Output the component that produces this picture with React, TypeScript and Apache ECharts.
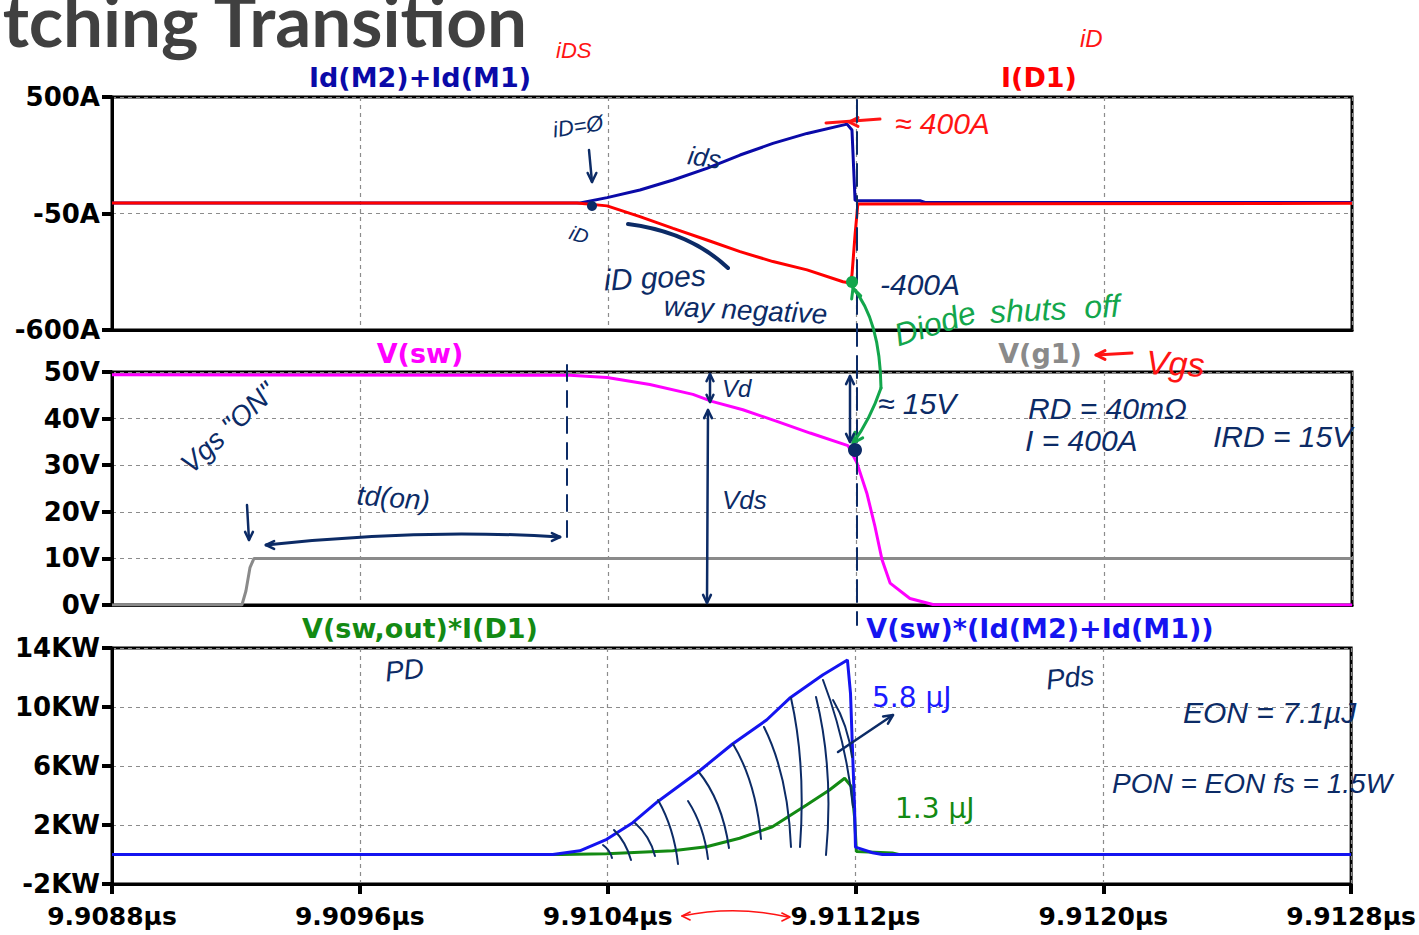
import React, { useEffect, useRef } from "react";
import * as echarts from "echarts";

// ---- time base (picoseconds) ----
const T_MIN = 9908800;
const T_MAX = 9912800;
const T_STEP = 800;

// ---- panel 1: currents (A) ----
const idTime = [9908800, 9910310, 9910397, 9910503, 9910610, 9910719, 9910826, 9910932, 9911042, 9911171, 9911187, 9911197, 9911206, 9911406, 9911423, 9912800];
const idAmps = [0, 0, 25, 61, 108, 163, 226, 281, 328, 372, 344, 12, 10, 10, 2, 2];

const idiodeTime = [9908800, 9910300, 9910397, 9910503, 9910610, 9910719, 9910826, 9910932, 9911042, 9911158, 9911181, 9911187, 9911197, 9911206, 9912800];
const idiodeAmps = [0, 0, -14, -65, -120, -175, -230, -277, -316, -372, -378, -340, -150, -5, -2];

// ---- panel 2: voltages (V) ----
const vswTime = [9908800, 9910277, 9910397, 9910535, 9910674, 9910735, 9910835, 9910945, 9911052, 9911174, 9911203, 9911235, 9911261, 9911284, 9911310, 9911374, 9911448, 9912800];
const vswVolts = [49.4, 49.3, 48.8, 47.3, 45.2, 43.7, 41.9, 39.4, 36.9, 34.2, 30.5, 24.0, 16.9, 9.7, 4.7, 1.4, 0.1, 0];

const vgTime = [9908800, 9909219, 9909232, 9909245, 9909258, 9912800];
const vgVolts = [0, 0, 3, 8, 10, 10];

// ---- panel 3: power (kW) ----
const pdTime = [9908800, 9910250, 9910397, 9910610, 9910719, 9910826, 9910932, 9911042, 9911116, 9911165, 9911187, 9911197, 9911203, 9911319, 9911340, 9912800];
const pdKW = [0, 0, 0.05, 0.26, 0.53, 1.1, 1.88, 3.36, 4.37, 5.17, 4.6, 2.56, 0.2, 0.1, 0, 0];

const pdsTime = [9908800, 9910223, 9910310, 9910397, 9910481, 9910561, 9910697, 9910803, 9910913, 9910987, 9911094, 9911174, 9911184, 9911197, 9911200, 9911255, 9911287, 9912800];
const pdsKW = [0, 0, 0.25, 1.03, 2.16, 3.58, 5.68, 7.49, 9.12, 10.59, 12.17, 13.19, 10.9, 3.2, 0.5, 0.12, 0, 0];

// ---- tick labels ----
const ampTicks = [-600, -50, 500];
const voltTicks = [0, 10, 20, 30, 40, 50];
const kwTicks = [-2, 2, 6, 10, 14];

const NAVY = "#0c2b66";
const INK_RED = "#ff1414";
const INK_GREEN = "#13a64c";
const HAND = "Liberation Sans";
const AXIS_FONT = "DejaVu Sans";

const pairs = (t: number[], v: number[]) => t.map((x, i) => [x, v[i]]);

const note = (x: number, y: number, text: string, color: string, size: number, rot = 0, extra: any = {}) => ({
  type: "text",
  x,
  y,
  rotation: rot,
  z: 100,
  style: {
    text,
    fill: color,
    fontSize: size,
    fontFamily: extra.family || HAND,
    fontStyle: extra.style || "italic",
    fontWeight: extra.weight || "normal",
    align: extra.align || "left",
    textAlign: extra.align || "left",
    verticalAlign: "middle",
    textVerticalAlign: "middle",
  },
});

const stroke = (x1: number, y1: number, x2: number, y2: number, color: string, w = 2.5, dash?: number[]) => ({
  type: "line",
  z: 100,
  shape: { x1, y1, x2, y2 },
  style: { stroke: color, lineWidth: w, lineDash: dash, lineCap: "round" },
});

const curve = (x1: number, y1: number, cx: number, cy: number, x2: number, y2: number, color: string, w = 2.5) => ({
  type: "bezierCurve",
  z: 100,
  shape: { x1, y1, cpx1: cx, cpy1: cy, x2, y2 },
  style: { stroke: color, lineWidth: w, fill: null, lineCap: "round" },
});

const head = (x: number, y: number, ang: number, color: string, size = 11, w = 2.5) => ({
  type: "polyline",
  z: 100,
  shape: {
    points: [
      [x - size * Math.cos(ang - 0.45), y - size * Math.sin(ang - 0.45)],
      [x, y],
      [x - size * Math.cos(ang + 0.45), y - size * Math.sin(ang + 0.45)],
    ],
  },
  style: { stroke: color, lineWidth: w, fill: null, lineCap: "round", lineJoin: "round" },
});

const dot = (x: number, y: number, r: number, color: string) => ({
  type: "circle",
  z: 100,
  shape: { cx: x, cy: y, r },
  style: { fill: color },
});

const traceTitle = (x: number, y: number, text: string, color: string) => ({
  type: "text",
  x,
  y,
  z: 90,
  style: {
    text,
    fill: color,
    fontSize: 27,
    fontFamily: AXIS_FONT,
    fontWeight: "bold",
    align: "center",
    textAlign: "center",
    verticalAlign: "middle",
    textVerticalAlign: "middle",
  },
});

// hatching strokes over the switching-loss area
const hatch: number[][] = [
  [603, 845, 610, 850, 612, 858],
  [614, 830, 626, 842, 631, 860],
  [635, 823, 650, 836, 655, 856],
  [658, 800, 674, 828, 678, 864],
  [688, 801, 704, 826, 708, 859],
  [698, 771, 722, 800, 729, 848],
  [733, 744, 756, 782, 761, 839],
  [764, 727, 788, 775, 791, 847],
  [791, 698, 806, 765, 800, 847],
  [816, 697, 834, 770, 826, 855],
  [823, 680, 846, 740, 853, 807],
  [833, 700, 848, 725, 852, 757],
];

function buildGraphics() {
  const g: any[] = [];
  // slide title, running off the top-left corner
  g.push({
    type: "text",
    x: 527,
    y: 19,
    z: 90,
    style: {
      text: "Switching Transition",
      fill: "#404040",
      fontSize: 71,
      fontFamily: "Lato",
      fontWeight: "bold",
      align: "right",
      textAlign: "right",
      verticalAlign: "middle",
      textVerticalAlign: "middle",
    },
  });

  g.push(traceTitle(420, 77, "Id(M2)+Id(M1)", "#0a0aa8"));
  g.push(traceTitle(1039, 77, "I(D1)", "#ff0000"));
  g.push(traceTitle(420, 353, "V(sw)", "#ff00ff"));
  g.push(traceTitle(1040, 353, "V(g1)", "#8a8a8a"));
  g.push(traceTitle(420, 628, "V(sw,out)*I(D1)", "#138a13"));
  g.push(traceTitle(1040, 628, "V(sw)*(Id(M2)+Id(M1))", "#1414f0"));

  // red ink
  g.push(note(556, 50, "iDS", INK_RED, 22, 0));
  g.push(note(1080, 38, "iD", INK_RED, 24, 0));
  g.push(stroke(826, 123, 880, 119, INK_RED, 3));
  g.push(head(849, 122, Math.PI, INK_RED, 10, 3));
  g.push(note(895, 123, "≈ 400A", INK_RED, 30, 0));
  g.push(stroke(1096, 355, 1132, 353, INK_RED, 3));
  g.push(head(1096, 355, Math.PI, INK_RED, 10, 3));
  g.push(note(1146, 362, "Vgs", INK_RED, 34, -0.05));
  g.push(curve(682, 916, 735, 905, 788, 917, INK_RED, 1.6));
  g.push(head(682, 916, Math.PI, INK_RED, 9, 1.6));
  g.push(head(790, 917, 0, INK_RED, 9, 1.6));

  // navy ink, current panel
  g.push(note(553, 130, "iD=Ø", NAVY, 22, 0.15));
  g.push(stroke(589, 150, 592, 182, NAVY, 2.5));
  g.push(head(592, 182, Math.PI / 2, NAVY, 10));
  g.push(dot(592, 206, 5, NAVY));
  g.push(note(570, 232, "iD", NAVY, 20, -0.3));
  g.push(note(688, 155, "ids", NAVY, 26, -0.15));
  g.push(curve(628, 224, 690, 232, 728, 268, NAVY, 4));
  g.push(note(604, 280, "iD goes", NAVY, 30, 0.05));
  g.push(note(664, 306, "way negative", NAVY, 28, -0.05));
  g.push(note(880, 284, "-400A", NAVY, 30, 0));
  g.push(stroke(857, 100, 857, 625, NAVY, 2, [22, 10]));

  // green ink
  g.push(dot(852, 282, 6, INK_GREEN));
  g.push(curve(881, 388, 880, 320, 853, 288, INK_GREEN, 3));
  g.push(head(853, 288, -1.9, INK_GREEN, 11, 3));
  g.push(curve(881, 388, 870, 420, 853, 443, INK_GREEN, 3));
  g.push(head(853, 443, 2.2, INK_GREEN, 11, 3));
  g.push(note(895, 336, "Diode", INK_GREEN, 32, 0.3));
  g.push(note(990, 312, "shuts  off", INK_GREEN, 32, 0.05));

  // navy ink, voltage panel
  g.push(stroke(567, 365, 567, 545, NAVY, 2, [16, 10]));
  g.push(note(185, 468, 'Vgs "ON"', NAVY, 28, 0.75));
  g.push(stroke(247, 505, 249, 540, NAVY, 2.5));
  g.push(head(249, 540, Math.PI / 2, NAVY, 9));
  g.push(curve(266, 545, 420, 528, 560, 537, NAVY, 3));
  g.push(head(266, 545, Math.PI, NAVY, 9));
  g.push(head(560, 537, 0, NAVY, 9));
  g.push(note(357, 495, "td(on)", NAVY, 28, -0.08));
  g.push(stroke(710, 374, 710, 402, NAVY, 2.5));
  g.push(head(710, 374, -Math.PI / 2, NAVY, 8));
  g.push(head(710, 402, Math.PI / 2, NAVY, 8));
  g.push(note(722, 388, "Vd", NAVY, 24, 0));
  g.push(stroke(708, 410, 707, 603, NAVY, 2.5));
  g.push(head(708, 410, -Math.PI / 2, NAVY, 9));
  g.push(head(707, 603, Math.PI / 2, NAVY, 9));
  g.push(note(722, 500, "Vds", NAVY, 26, 0));
  g.push(stroke(850, 376, 850, 442, NAVY, 2.5));
  g.push(head(850, 376, -Math.PI / 2, NAVY, 9));
  g.push(head(850, 442, Math.PI / 2, NAVY, 9));
  g.push(dot(855, 450, 7, NAVY));
  g.push(note(878, 403, "≈ 15V", NAVY, 30, 0));
  g.push(note(1028, 408, "RD = 40mΩ", NAVY, 30, 0));
  g.push(note(1025, 440, "I = 400A", NAVY, 30, 0));
  g.push(note(1213, 436, "IRD = 15V", NAVY, 30, 0));

  // navy ink, power panel
  hatch.forEach(([x1, y1, cx, cy, x2, y2]) => g.push(curve(x1, y1, cx, cy, x2, y2, NAVY, 2)));
  g.push(stroke(838, 752, 893, 715, NAVY, 2.5));
  g.push(head(893, 715, Math.atan2(-37, 55), NAVY, 10));
  g.push(note(385, 672, "PD", NAVY, 28, 0.1));
  g.push(note(1046, 680, "Pds", NAVY, 28, 0.1));
  g.push(note(1183, 712, "EON = 7.1µJ", NAVY, 30, 0));
  g.push(note(1112, 783, "PON = EON fs = 1.5W", NAVY, 28, 0));
  g.push(note(872, 697, "5.8 µJ", "#1a1aff", 28, 0, { style: "normal", family: "DejaVu Sans" }));
  g.push(note(895, 808, "1.3 µJ", "#138a13", 28, 0, { style: "normal", family: "DejaVu Sans" }));
  return g;
}

const dashedGrid = { show: true, lineStyle: { color: "#8c8c8c", type: [4, 4], width: 1.2 } };
const labelStyle = { color: "#000", fontFamily: AXIS_FONT, fontWeight: "bold", fontSize: 25 };

function xAxis(gridIndex: number, bottom: boolean) {
  return {
    type: "value",
    gridIndex,
    min: T_MIN,
    max: T_MAX,
    interval: T_STEP,
    axisLine: { show: true, onZero: false, lineStyle: { color: "#000", width: 3 } },
    axisTick: { show: bottom, length: 10, lineStyle: { color: "#000", width: 4 } },
    axisLabel: {
      show: bottom,
      ...labelStyle,
      margin: 20,
      formatter: (v: number) => (v / 1e6).toFixed(4) + "µs",
    },
    splitLine: dashedGrid,
  };
}

function yAxis(gridIndex: number, min: number, max: number, ticks: number[], unit: string) {
  return {
    type: "value",
    gridIndex,
    min,
    max,
    axisLine: { show: true, onZero: false, lineStyle: { color: "#000", width: 3 } },
    axisTick: { show: true, length: 10, customValues: ticks, lineStyle: { color: "#000", width: 4 } },
    axisLabel: { ...labelStyle, fontSize: 26, margin: 12, customValues: ticks, formatter: (v: number) => v + unit },
    splitLine: dashedGrid,
  };
}

const line = (name: string, data: number[][], color: string, axis: number) => ({
  name,
  type: "line",
  xAxisIndex: axis,
  yAxisIndex: axis,
  data,
  showSymbol: false,
  symbol: "none",
  lineStyle: { color, width: 3 },
  itemStyle: { color },
});

export default function App() {
  const ref = useRef<HTMLDivElement>(null);
  useEffect(() => {
    if (!ref.current) return;
    const chart = echarts.init(ref.current, undefined, { renderer: "svg" });
    const border = { show: true, borderColor: "#000", borderWidth: 3, backgroundColor: "#fff" };
    chart.setOption({
      animation: false,
      backgroundColor: "#fff",
      grid: [
        { left: 112, right: 67, top: 97, height: 233, ...border },
        { left: 112, right: 67, top: 372, height: 233, ...border },
        { left: 112, right: 67, top: 648, height: 236, ...border },
      ],
      xAxis: [xAxis(0, false), xAxis(1, false), xAxis(2, true)],
      yAxis: [
        yAxis(0, -600, 500, ampTicks, "A"),
        yAxis(1, 0, 50, voltTicks, "V"),
        yAxis(2, -2, 14, kwTicks, "KW"),
      ],
      series: [
        line("Id(M2)+Id(M1)", pairs(idTime, idAmps), "#0a0aa8", 0),
        line("I(D1)", pairs(idiodeTime, idiodeAmps), "#ff0000", 0),
        line("V(g1)", pairs(vgTime, vgVolts), "#8a8a8a", 1),
        line("V(sw)", pairs(vswTime, vswVolts), "#ff00ff", 1),
        line("V(sw,out)*I(D1)", pairs(pdTime, pdKW), "#138a13", 2),
        line("V(sw)*(Id(M2)+Id(M1))", pairs(pdsTime, pdsKW), "#1414f0", 2),
      ],
      graphic: buildGraphics(),
    });
    return () => chart.dispose();
  }, []);
  return (
    <div
      ref={ref}
      style={{ position: "fixed", left: 0, top: 0, width: 1419, height: 935, background: "#fff" }}
    />
  );
}
